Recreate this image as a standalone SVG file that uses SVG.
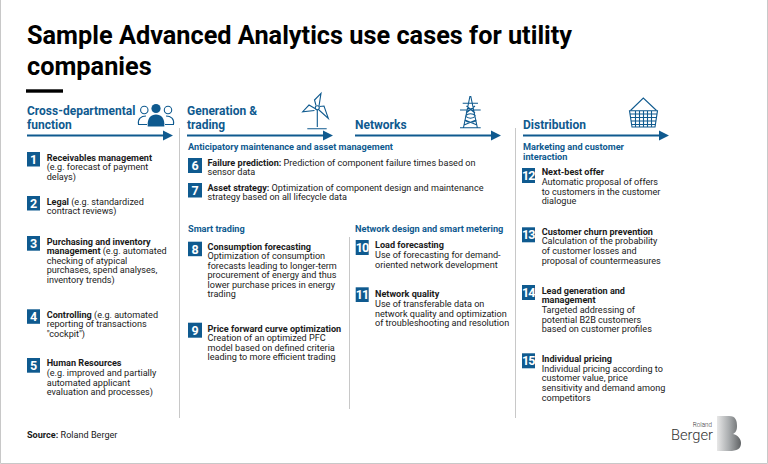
<svg xmlns="http://www.w3.org/2000/svg" width="768" height="464" viewBox="0 0 768 464">
<style>
text{font-family:Roboto,"Liberation Sans",sans-serif;font-size:9.1px;fill:#1a1a1a}
.b{font-weight:700}
.t{font-size:25.300px;font-weight:700;fill:#000}
.h{font-size:12px;font-weight:700;fill:#0f5a8f}
.s{font-size:9.200px;font-weight:700;fill:#0f5a8f}
.n{font-size:12.500px;font-weight:700;fill:#fff;text-anchor:middle}
.d{letter-spacing:-1px}
.box{fill:#0f5a8f}
.sep{stroke:#c8c8c8;stroke-width:1;fill:none}
.arr{stroke:#0f5a8f;stroke-width:2;fill:none}
.head{fill:#0f5a8f}
.ic{stroke:#0f5a8f;stroke-width:1.100;fill:none}
.l1{font-size:6.300px;text-anchor:end;fill:#333;font-weight:300}
.l2{font-size:14.700px;text-anchor:end;fill:#333;font-weight:300}
</style>
<defs><linearGradient id="g" x1="0" x2="1" y1="0" y2="0"><stop offset="0" stop-color="#e8e8e8"/><stop offset="0.5" stop-color="#a9acae"/><stop offset="1" stop-color="#5f6264"/></linearGradient></defs>
<rect width="768" height="464" fill="#fff"/>
<path d="M0.500 0V463.500H767.500V0" fill="none" stroke="#c8c8c8"/>
<text class="t" x="27" y="44">Sample Advanced Analytics use cases for utility</text>
<text class="t" x="27" y="75">companies</text>
<rect x="26" y="89.300" width="37" height="3.400" fill="#000"/>
<g id="connectors">
<path class="sep" d="M179.500 128V418M349.500 237V409M515.500 128V418"/>
<path class="arr" d="M27 135.500H164M187 135.500H324M355 135.500H492M523 135.500H660"/>
<path class="head" d="M163 130.500L173 135.500L163 140.500ZM323 130.500L333 135.500L323 140.500ZM491 130.500L501 135.500L491 140.500ZM659 130.500L669 135.500L659 140.500Z"/>
</g>
<g id="head1"><text class="h" x="27" y="114.500">Cross-departmental</text><text class="h" x="27" y="128.500">function</text>
<circle cx="156" cy="108.500" r="4.600" class="head"/><path class="head" d="M147.700 126.500C147 118 151 114.500 156 114.500S165 118 164.300 126.500Z"/>
<circle cx="144.300" cy="110" r="3.700" class="ic"/><circle cx="168" cy="110" r="3.700" class="ic"/>
<path class="ic" d="M147 124.500H138.500C137.500 119 141 116 146 116M165 124.500H173.500C174.500 119 171 116 166 116"/></g>
<g id="head2"><text class="h" x="187" y="114.500">Generation &amp;</text><text class="h" x="187" y="128.500">trading</text>
<path class="ic" d="M317.300 110V127M307.300 128.700H326.700"/>
<path class="ic" d="M316 105.500L314.500 100L321 93.300L319 106M315 108.500L309 105L302.700 111.700L314.500 110.500M319 110L328.300 118.300L324 106L319.500 106.500"/><circle cx="317.300" cy="107.700" r="2" class="ic"/></g>
<g id="head3"><text class="h" x="355" y="128.500">Networks</text>
<path class="ic" stroke-width="1.400" d="M470 96L463.500 127.500M470.700 96L477.300 127.500M460 127.700H480.700M462.700 103.300H478M460 110H480.700M466.500 106L475 113M475 106L466 113M465.500 116C468 119 473 119 475.500 116C473 113 468 113 465.500 116ZM464.500 120C468 123 473 123 476.500 120M464 125L476 120M477 125L465 120"/></g>
<g id="head4"><text class="h" x="523" y="128.500">Distribution</text>
<path class="ic" d="M630.500 110.500L643.300 98L656.500 110.500"/><path class="ic" d="M629.500 110.700H657.500L655 127H632ZM630.500 114H656.500M631 117.500H656M631.500 121H655.500M632 124.500H655M635.500 111V127M639.500 111V127M643.500 111V127M647.500 111V127M651.500 111V127"/></g>
<g id="n1"><rect class="box" x="27" y="152" width="13" height="14.500"/><text class="n" x="33.500" y="163.800">1</text><text class="b" x="46.700" y="160.500">Receivables management</text><text x="46.700" y="170">(e.g. forecast of payment</text><text x="46.700" y="179.500">delays)</text></g>
<g id="n2"><rect class="box" x="27" y="196" width="13" height="14.500"/><text class="n" x="33.500" y="207.800">2</text><text x="46.700" y="204.500"><tspan class="b">Legal</tspan> (e.g. standardized</text><text x="46.700" y="214">contract reviews)</text></g>
<g id="n3"><rect class="box" x="27" y="236" width="13" height="14.700"/><text class="n" x="33.500" y="248">3</text><text class="b" x="46.700" y="244.500">Purchasing and inventory</text><text x="46.700" y="254"><tspan class="b">management</tspan> (e.g. automated</text><text x="46.700" y="263.500">checking of atypical</text><text x="46.700" y="273">purchases, spend analyses,</text><text x="46.700" y="282.500">inventory trends)</text></g>
<g id="n4"><rect class="box" x="27" y="309.300" width="13" height="14.500"/><text class="n" x="33.500" y="321">4</text><text x="46.700" y="317.500"><tspan class="b">Controlling</tspan> (e.g. automated</text><text x="46.700" y="327">reporting of transactions</text><text x="46.700" y="336.500">"cockpit")</text></g>
<g id="n5"><rect class="box" x="27" y="358" width="13" height="14.700"/><text class="n" x="33.500" y="370">5</text><text class="b" x="46.700" y="366">Human Resources</text><text x="46.700" y="376">(e.g. improved and partially</text><text x="46.700" y="385.500">automated applicant</text><text x="46.700" y="395">evaluation and processes)</text></g>
<text class="s" x="188" y="150">Anticipatory maintenance and asset management</text>
<g id="n6"><rect class="box" x="188" y="158" width="14" height="15"/><text class="n" x="195" y="170">6</text><text x="207.500" y="165.500"><tspan class="b">Failure prediction:</tspan> Prediction of component failure times based on</text><text x="207.500" y="175">sensor data</text></g>
<g id="n7"><rect class="box" x="188" y="183" width="14" height="14.500"/><text class="n" x="195" y="194.800">7</text><text x="207.500" y="190.500"><tspan class="b">Asset strategy:</tspan> Optimization of component design and maintenance</text><text x="207.500" y="200">strategy based on all lifecycle data</text></g>
<text class="s" x="188" y="232">Smart trading</text>
<g id="n8"><rect class="box" x="188" y="241.700" width="14" height="14.500"/><text class="n" x="195" y="253.500">8</text><text class="b" x="207.500" y="249.500">Consumption forecasting</text><text x="207.500" y="259">Optimization of consumption</text><text x="207.500" y="268.500">forecasts leading to longer-term</text><text x="207.500" y="278">procurement of energy and thus</text><text x="207.500" y="287.500">lower purchase prices in energy</text><text x="207.500" y="297">trading</text></g>
<g id="n9"><rect class="box" x="188" y="322.700" width="14" height="15"/><text class="n" x="195" y="334.500">9</text><text class="b" x="207.500" y="331.500">Price forward curve optimization</text><text x="207.500" y="341">Creation of an optimized PFC</text><text x="207.500" y="350.500">model based on defined criteria</text><text x="207.500" y="360">leading to more efficient trading</text></g>
<text class="s" x="355" y="232">Network design and smart metering</text>
<g id="n10"><rect class="box" x="355.700" y="240" width="13" height="15"/><text class="n d" x="362" y="252">10</text><text class="b" x="375" y="248">Load forecasting</text><text x="375" y="258">Use of forecasting for demand-</text><text x="375" y="267.500">oriented network development</text></g>
<g id="n11"><rect class="box" x="355.700" y="287.300" width="13" height="14.700"/><text class="n d" x="362" y="299">11</text><text class="b" x="375" y="297">Network quality</text><text x="375" y="307">Use of transferable data on</text><text x="375" y="316.500">network quality and optimization</text><text x="375" y="326">of troubleshooting and resolution</text></g>
<text class="s" x="523" y="150">Marketing and customer</text><text class="s" x="523" y="160">interaction</text>
<g id="n12"><rect class="box" x="522" y="168" width="13" height="15"/><text class="n d" x="528.200" y="180">12</text><text class="b" x="541.700" y="175">Next-best offer</text><text x="541.700" y="185">Automatic proposal of offers</text><text x="541.700" y="194.500">to customers in the customer</text><text x="541.700" y="204">dialogue</text></g>
<g id="n13"><rect class="box" x="522" y="227.300" width="13" height="15"/><text class="n d" x="528.200" y="239.300">13</text><text class="b" x="541.700" y="234.500">Customer churn prevention</text><text x="541.700" y="244">Calculation of the probability</text><text x="541.700" y="253.500">of customer losses and</text><text x="541.700" y="263.500">proposal of countermeasures</text></g>
<g id="n14"><rect class="box" x="522" y="285" width="13" height="15"/><text class="n d" x="528.200" y="297">14</text><text class="b" x="541.700" y="293.500">Lead generation and</text><text class="b" x="541.700" y="303">management</text><text x="541.700" y="312.500">Targeted addressing of</text><text x="541.700" y="322.500">potential B2B customers</text><text x="541.700" y="332">based on customer profiles</text></g>
<g id="n15"><rect class="box" x="522" y="353.300" width="13" height="15"/><text class="n d" x="528.200" y="365.300">15</text><text class="b" x="541.700" y="362">Individual pricing</text><text x="541.700" y="371.500">Individual pricing according to</text><text x="541.700" y="381">customer value, price</text><text x="541.700" y="391">sensitivity and demand among</text><text x="541.700" y="400.800">competitors</text></g>
<text x="27" y="437.500"><tspan class="b">Source:</tspan> Roland Berger</text>
<g id="logo"><text class="l1" x="712" y="426.500">Roland</text><text class="l2" x="713" y="439.500">Berger</text>
<path fill="url(#g)" d="M717 416H729C736 416 737 421 737 426C737 431 735.500 432.500 733 434C738 435 741 439 741 443C741 449 737 451 729 451H717Z"/></g>
</svg>
